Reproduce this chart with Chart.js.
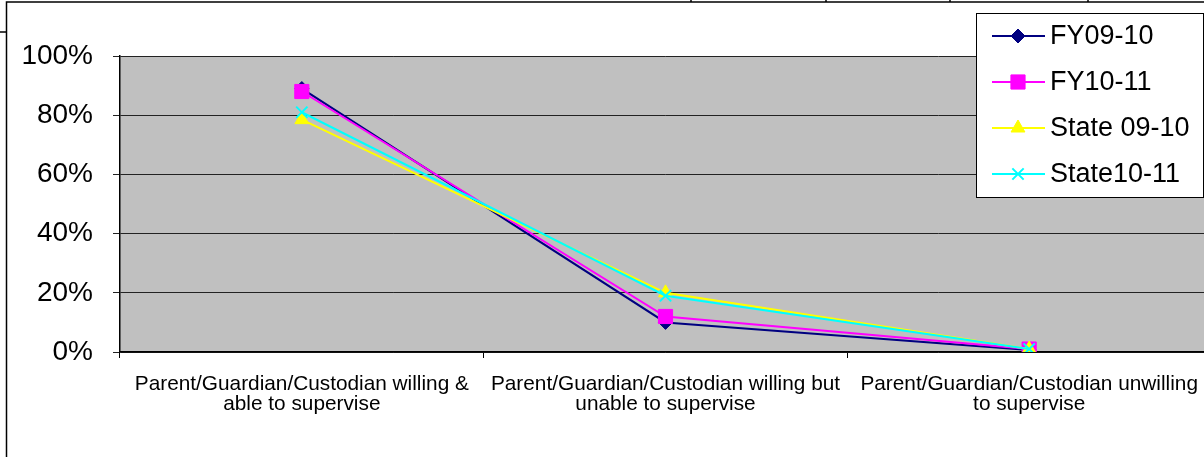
<!DOCTYPE html>
<html>
<head>
<meta charset="utf-8">
<script src="https://cdn.jsdelivr.net/npm/chart.js@4.4.1/dist/chart.umd.min.js"></script>
<style>
  html, body { margin:0; padding:0; background:#fff; overflow:hidden; }
  #wrap { width:1204px; height:457px; overflow:hidden; position:relative; }
  canvas { display:block; }
</style>
</head>
<body>
<div id="wrap"><canvas id="chart" width="1222" height="457"></canvas></div>
<script>

const categories = [
    ["Parent/Guardian/Custodian willing &", "able to supervise"],
    ["Parent/Guardian/Custodian willing but", "unable to supervise"],
    ["Parent/Guardian/Custodian unwilling", "to supervise"]
]

const seriesNames = ["FY09-10", "FY10-11", "State 09-10", "State10-11"]

const fy0910 = [89, 10, 0.7]
const fy1011 = [88, 12, 1]
const state0910 = [78.5, 20, 1]
const state1011 = [81, 19, 1]

const yMin = 0
const yMax = 100
const yStep = 20

const font = "'Liberation Sans', Arial, sans-serif"

// gray plot background
const plotBg = {
    id: "plotBg",
    beforeDraw(chart){
        const a = chart.chartArea
        const ctx = chart.ctx
        ctx.save()
        ctx.fillStyle = "#c0c0c0"
        ctx.fillRect(a.left, a.top, a.right - a.left, a.bottom - a.top)
        ctx.restore()
    }
}

// sheet frame lines around the chart
const frame = {
    id: "frame",
    afterDraw(chart){
        const ctx = chart.ctx
        ctx.save()
        ctx.strokeStyle = "#000"
        ctx.lineWidth = 1.5
        ctx.beginPath()
        ctx.moveTo(6.5, 457); ctx.lineTo(6.5, 2); ctx.lineTo(1222, 2)
        ctx.moveTo(0, 32); ctx.lineTo(7, 32)
        ;[691, 826, 950, 1088].forEach(x=>{
            ctx.moveTo(x, 0); ctx.lineTo(x, 2)
        })
        ctx.stroke()
        ctx.restore()
    }
}

// boxed legend on top of the plot
const boxLegend = {
    id: "boxLegend",
    afterDraw(chart){
        const ctx = chart.ctx
        const x0 = 976, y0 = 13, w = 228, h = 185
        ctx.save()
        ctx.fillStyle = "#fff"
        ctx.fillRect(x0, y0, w, h)
        ctx.strokeStyle = "#000"
        ctx.lineWidth = 1
        ctx.strokeRect(x0 + 0.5, y0 + 0.5, w - 1, h - 1)

        chart.data.datasets.forEach((ds, i)=>{
            const y = 36 + i * 46
            ctx.strokeStyle = ds.borderColor
            ctx.lineWidth = 2
            ctx.beginPath()
            ctx.moveTo(992, y)
            ctx.lineTo(1045, y)
            ctx.stroke()
            ctx.fillStyle = ds.pointBackgroundColor
            ctx.strokeStyle = ds.pointBorderColor
            ctx.lineWidth = ds.pointBorderWidth
            Chart.helpers.drawPoint(ctx, {
                pointStyle: ds.pointStyle,
                radius: ds.pointRadius,
                rotation: 0,
                borderWidth: ds.pointBorderWidth
            }, 1018, y)
            ctx.fillStyle = "#000"
            ctx.font = "27px " + font
            ctx.textBaseline = "middle"
            ctx.textAlign = "left"
            ctx.fillText(ds.label, 1050, y + 1)
        })
        ctx.restore()
    }
}

function series(label, data, color, style, radius, bw, order){
    return {
        label: label,
        data: data,
        borderColor: color,
        backgroundColor: color,
        borderWidth: 2,
        pointStyle: style,
        pointRadius: radius,
        pointHoverRadius: radius,
        pointBackgroundColor: color,
        pointBorderColor: color,
        pointBorderWidth: bw,
        tension: 0,
        fill: false,
        order: order
    }
}

new Chart(document.getElementById("chart"), {
    type: "line",
    data: {
        labels: categories,
        datasets: [
            series(seriesNames[0], fy0910, "#000080", "rectRot", 7, 1, 4),
            series(seriesNames[1], fy1011, "#ff00ff", "rect", 10, 1, 3),
            series(seriesNames[2], state0910, "#ffff00", "triangle", 8, 1, 2),
            series(seriesNames[3], state1011, "#00ffff", "crossRot", 8, 2, 1)
        ]
    },
    options: {
        responsive: false,
        animation: false,
        devicePixelRatio: 1,
        layout: { padding: { top: 56, left: 0, right: 3, bottom: 0 } },
        plugins: {
            legend: { display: false },
            tooltip: { enabled: false }
        },
        scales: {
            x: {
                offset: true,
                afterFit(scale){ scale.height = 105 },
                border: { display: true, color: "#000", width: 1.5 },
                grid: {
                    offset: true,
                    drawOnChartArea: false,
                    drawTicks: true,
                    tickLength: 6,
                    color: "#000"
                },
                ticks: {
                    color: "#000",
                    maxRotation: 0,
                    autoSkip: false,
                    padding: 16,
                    font: { family: font, size: 20.8, lineHeight: 0.97 }
                }
            },
            y: {
                min: yMin,
                max: yMax,
                afterFit(scale){ scale.width = 120 },
                border: { display: true, color: "#000", width: 1.5 },
                grid: {
                    color: "#222",
                    lineWidth: 1,
                    tickLength: 7
                },
                ticks: {
                    stepSize: yStep,
                    color: "#000",
                    padding: 20,
                    font: { family: font, size: 28 },
                    callback: v => v + "%"
                }
            }
        }
    },
    plugins: [plotBg, frame, boxLegend]
})
</script>
</body>
</html>
